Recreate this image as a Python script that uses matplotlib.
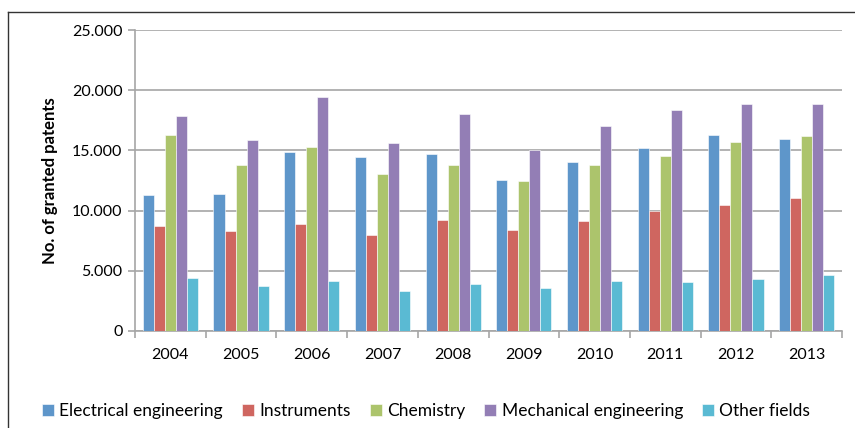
import numpy as np
import matplotlib.pyplot as plt
from matplotlib.lines import Line2D

plt.rcParams['font.family'] = ['Lato', 'DejaVu Sans']

years = ['2004', '2005', '2006', '2007', '2008', '2009', '2010', '2011', '2012', '2013']
electrical = [11280, 11390, 14860, 14440, 14690, 12560, 14000, 15220, 16300, 15920]
instruments = [8720, 8310, 8890, 7970, 9190, 8390, 9140, 10000, 10500, 11080]
chemistry = [16310, 13780, 15310, 13080, 13780, 12440, 13810, 14500, 15670, 16170]
mechanical = [17830, 15860, 19420, 15640, 18030, 15000, 17060, 18360, 18830, 18890]
other = [4420, 3720, 4140, 3360, 3940, 3530, 4170, 4080, 4360, 4640]

series = [electrical, instruments, chemistry, mechanical, other]
names = ['Electrical engineering', 'Instruments', 'Chemistry', 'Mechanical engineering', 'Other fields']
colors = ['#5E96CA', '#CF6660', '#ACC46C', '#937EB5', '#5ABAD3']

fig = plt.figure(figsize=(8.55, 4.28), dpi=100)
ax = fig.add_axes([135 / 855, 1 - 331 / 428, 707 / 855, 301 / 428])

x = np.arange(len(years))
w = 0.156
for i, (vals, name, c) in enumerate(zip(series, names, colors)):
    ax.bar(x + (i - 2) * w, vals, w, color=c, label=name,
           edgecolor='white', linewidth=0.4, zorder=3)

ax.set_xlim(-0.5, len(years) - 0.5)
ax.set_ylim(0, 25000)
ax.set_yticks(range(0, 25001, 5000))
ax.set_yticklabels(['0', '5.000', '10.000', '15.000', '20.000', '25.000'], fontsize=11.5)
ax.grid(axis='y', color='#A6A6A6', linewidth=1.2, zorder=0)

ax.set_xticks(x)
ax.set_xticklabels(years, fontsize=11.5)
ax.tick_params(axis='x', length=0, pad=12)
ax.set_xticks(np.arange(-0.5, len(years)), minor=True)
ax.tick_params(axis='x', which='minor', length=5, color='#A6A6A6', width=1.2)
ax.tick_params(axis='y', length=5, color='#A6A6A6', width=1.2, pad=4)

for s in ['top', 'right']:
    ax.spines[s].set_visible(False)
for s in ['left', 'bottom']:
    ax.spines[s].set_color('#A6A6A6')
    ax.spines[s].set_linewidth(1.2)

ax.set_ylabel('No. of granted patents', fontsize=12, fontweight='bold', labelpad=10)

fig.legend(loc='center', bbox_to_anchor=(426 / 855, 1 - 411 / 428), ncol=5,
           frameon=False, fontsize=12.5, handlelength=0.7, handleheight=0.7,
           handletextpad=0.3, columnspacing=1.1)

# outer frame (left and top edges only visible)
fig.add_artist(Line2D([8 / 855, 8 / 855], [0, 1 - 12 / 428], color='#333333',
                      linewidth=1, transform=fig.transFigure))
fig.add_artist(Line2D([8 / 855, 1], [1 - 12 / 428, 1 - 12 / 428], color='#333333',
                      linewidth=1, transform=fig.transFigure))

fig.savefig('out.png', dpi=100)
